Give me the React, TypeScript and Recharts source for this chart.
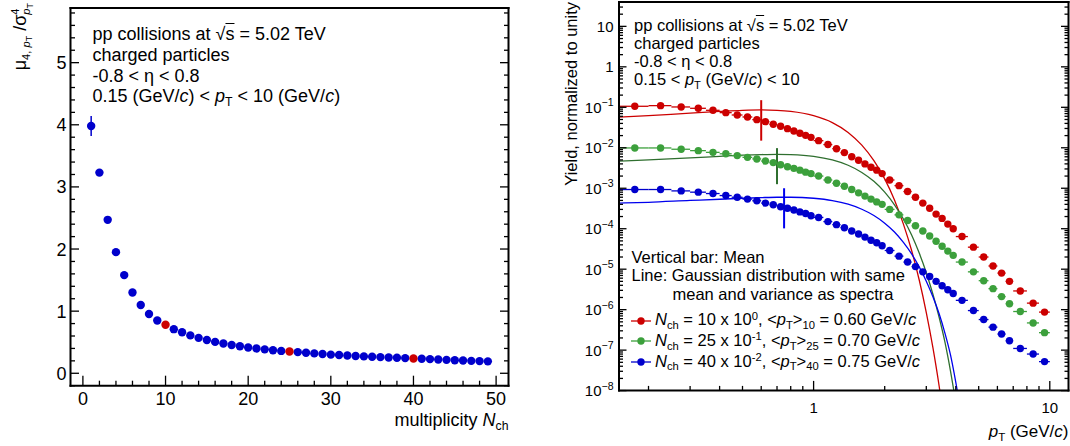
import React from "react";
import {
  ComposedChart,
  Scatter,
  Line,
  XAxis,
  YAxis,
  ErrorBar,
  ReferenceLine,
  Legend,
} from "recharts";

const FONT = '"Liberation Sans", Arial, Helvetica, sans-serif';
const RED = "#cc0000";
const GREEN = "#3ca03c";
const GREEN_LINE = "#2f6f2f";
const BLUE = "#0000cc";
const BLUE_LINE = "#0000ee";

// ---- left panel: mu4 / sigma^4 of pT vs multiplicity
const nch = [
  1, 2, 3, 4, 5, 6, 7, 8, 9, 10, 11, 12, 13, 14, 15, 16, 17, 18, 19, 20, 21, 22, 23, 24, 25,
  26, 27, 28, 29, 30, 31, 32, 33, 34, 35, 36, 37, 38, 39, 40, 41, 42, 43, 44, 45, 46, 47, 48, 49,
];
const moment = [
  3.98, 3.23, 2.47, 1.95, 1.58, 1.3, 1.1, 0.955, 0.85, 0.78, 0.71, 0.66, 0.61, 0.57, 0.535,
  0.505, 0.48, 0.455, 0.435, 0.415, 0.4, 0.385, 0.37, 0.36, 0.35, 0.34, 0.33, 0.32, 0.31, 0.3,
  0.293, 0.286, 0.279, 0.272, 0.266, 0.26, 0.254, 0.249, 0.244, 0.238, 0.234, 0.228, 0.222,
  0.216, 0.21, 0.205, 0.2, 0.196, 0.192,
];
const momentErr = [
  0.16, 0.03, 0.02, 0.015, 0.012, 0.01, 0.01, 0.008, 0.008, 0.007, 0.007, 0.006, 0.006, 0.006,
  0.005, 0.005, 0.005, 0.005, 0.005, 0.004, 0.004, 0.004, 0.004, 0.004, 0.004, 0.004, 0.004,
  0.004, 0.004, 0.004, 0.004, 0.004, 0.004, 0.004, 0.004, 0.004, 0.004, 0.004, 0.004, 0.004,
  0.004, 0.004, 0.004, 0.004, 0.004, 0.004, 0.004, 0.004, 0.004,
];
const highlighted = [10, 25, 40];

const nchMajor = [0, 10, 20, 30, 40, 50];
const nchMinor = [2, 4, 6, 8, 12, 14, 16, 18, 22, 24, 26, 28, 32, 34, 36, 38, 42, 44, 46, 48];
const momentMajor = [0, 1, 2, 3, 4, 5];

// ---- right panel: pT spectra
const ptCenters = [
  0.175, 0.225, 0.275, 0.325, 0.375, 0.425, 0.475, 0.525, 0.575, 0.625, 0.675, 0.725, 0.775,
  0.825, 0.875, 0.925, 0.975, 1.05, 1.15, 1.25, 1.35, 1.45, 1.55, 1.65, 1.75, 1.85, 1.95, 2.1,
  2.3, 2.5, 2.7, 2.9, 3.1, 3.3, 3.5, 3.7, 3.9, 4.25, 4.75, 5.25, 5.75, 6.25, 6.75, 7.5, 8.5, 9.5,
];
const ptHalf = [
  0.025, 0.025, 0.025, 0.025, 0.025, 0.025, 0.025, 0.025, 0.025, 0.025, 0.025, 0.025, 0.025,
  0.025, 0.025, 0.025, 0.025, 0.05, 0.05, 0.05, 0.05, 0.05, 0.05, 0.05, 0.05, 0.05, 0.05, 0.1,
  0.1, 0.1, 0.1, 0.1, 0.1, 0.1, 0.1, 0.1, 0.1, 0.25, 0.25, 0.25, 0.25, 0.25, 0.25, 0.5, 0.5, 0.5,
];
const yieldN10 = [
  0.106, 0.11, 0.102, 0.0945, 0.0843, 0.0738, 0.0646, 0.0577, 0.0496, 0.0442, 0.038, 0.034,
  0.0297, 0.026, 0.0228, 0.0203, 0.0181, 0.015, 0.012, 0.0095, 0.0076, 0.006, 0.0049, 0.004,
  0.0033, 0.0028, 0.0023, 0.0016, 0.00116, 0.00083, 0.0006, 0.00043, 0.00032, 0.00023, 0.00018,
  0.00013, 0.0001, 6.4e-5, 3.5e-5, 2.0e-5, 1.2e-5, 8e-6, 5e-6, 2.9e-6, 1.45e-6, 8.7e-7,
];
const yieldN25 = [
  0.0099, 0.0099, 0.0092, 0.0085, 0.0077, 0.0071, 0.0064, 0.0058, 0.0053, 0.0047, 0.0043,
  0.0038, 0.0034, 0.0031, 0.0028, 0.0025, 0.0023, 0.002, 0.0016, 0.00133, 0.00112, 0.00093,
  0.00077, 0.00064, 0.00054, 0.00046, 0.0004, 0.0003, 0.00022, 0.00016, 0.000118, 8.8e-5,
  6.6e-5, 4.9e-5, 3.7e-5, 2.8e-5, 2.2e-5, 1.5e-5, 8.6e-6, 5.2e-6, 3.3e-6, 2.1e-6, 1.4e-6, 9e-7,
  4.7e-7, 2.7e-7,
];
const yieldN40 = [
  9.3e-4, 9.3e-4, 8.6e-4, 8.0e-4, 7.4e-4, 6.6e-4, 6.0e-4, 5.4e-4, 4.9e-4, 4.3e-4, 3.9e-4,
  3.5e-4, 3.2e-4, 2.9e-4, 2.6e-4, 2.37e-4, 2.1e-4, 1.9e-4, 1.5e-4, 1.26e-4, 1.06e-4, 8.8e-5,
  7.4e-5, 6.2e-5, 5.2e-5, 4.5e-5, 3.8e-5, 2.9e-5, 2.1e-5, 1.5e-5, 1.16e-5, 8.6e-6, 6.6e-6,
  5.0e-6, 3.9e-6, 3.1e-6, 2.5e-6, 1.7e-6, 9.5e-7, 5.7e-7, 3.7e-7, 2.5e-7, 1.7e-7, 1.1e-7, 8e-8,
  5.2e-8,
];

// Gaussian curves with same mean and variance
const gaussPt = [
  0.15, 0.2, 0.3, 0.4, 0.5, 0.6, 0.7, 0.8, 1.0, 1.2, 1.4, 1.6, 1.8, 2.0, 2.2, 2.4, 2.6, 2.8, 3.0,
  3.2, 3.4, 3.6, 3.8, 4.0, 4.2,
];
const gaussN10 = [
  0.057, 0.062, 0.072, 0.079, 0.084, 0.086, 0.084, 0.079, 0.062, 0.042, 0.024, 0.0116, 0.0048,
  0.0017, 5.1e-4, 1.3e-4, 2.9e-5, 5.4e-6, 8.5e-7, 1.15e-7, 1.3e-8, 1.3e-9, null, null, null,
];
const gaussN25 = [
  4.7e-3, 5.0e-3, 5.6e-3, 6.15e-3, 6.56e-3, 6.8e-3, 6.9e-3, 6.8e-3, 6.15e-3, 5.0e-3, 3.7e-3,
  2.46e-3, 1.48e-3, 8.0e-4, 3.9e-4, 1.74e-4, 7.0e-5, 2.5e-5, 8.2e-6, 2.4e-6, 6.5e-7, 1.55e-7,
  3.0e-8, 5e-9, null,
];
const gaussN40 = [
  4.3e-4, 4.5e-4, 5.0e-4, 5.35e-4, 5.66e-4, 5.87e-4, 5.99e-4, 5.99e-4, 5.66e-4, 4.96e-4, 4.03e-4,
  3.03e-4, 2.12e-4, 1.37e-4, 8.3e-5, 4.6e-5, 2.38e-5, 1.14e-5, 5.06e-6, 2.08e-6, 7.9e-7, 2.6e-7,
  7.5e-8, 1.6e-8, 3e-9,
];

const spectraNch = [10, 25, 40];
const spectraScaleExp = ["0", "-1", "-2"];
const meanPt = [0.6, 0.7, 0.75];
const meanBarLow = [0.015, 0.00126, 1.02e-4];
const meanBarHigh = [0.15, 0.0098, 1.0e-3];

const ptMajor = [1, 10];
const ptMinor = [0.2, 0.3, 0.4, 0.5, 0.6, 0.7, 0.8, 0.9, 2, 3, 4, 5, 6, 7, 8, 9];
const yieldMajor = [1e-8, 1e-7, 1e-6, 1e-5, 1e-4, 1e-3, 1e-2, 1e-1, 1, 10];

// ---- helpers
const steps = (from: number, to: number, step: number) => {
  const out: number[] = [];
  for (let v = from; v <= to + 1e-9; v += step) out.push(Math.round(v * 1000) / 1000);
  return out;
};
const logMinors = (decades: number[], max: number) => {
  const out: number[] = [];
  decades.forEach((d) => [2, 3, 4, 5, 6, 7, 8, 9].forEach((m) => d * m <= max && out.push(d * m)));
  return out;
};
const isIn = (list: number[], v: number) =>
  list.some((m) => Math.abs(m - v) <= Math.abs(m) * 1e-6 + 1e-12);

type Side = "bottom" | "top" | "left" | "right";
type TickOpts = {
  side: Side;
  majors: number[];
  major: number;
  minor: number;
  label?: (v: number) => React.ReactNode;
  size?: number;
  gap?: number;
};

// ROOT style: ticks drawn inwards from the frame, labels outside
function frameTick(o: TickOpts) {
  return (props: any) => {
    const { x, y, payload } = props;
    const v = payload.value as number;
    const big = isIn(o.majors, v);
    const len = big ? o.major : o.minor;
    const d =
      o.side === "bottom" ? [0, -len] : o.side === "top" ? [0, len] : o.side === "left" ? [len, 0] : [-len, 0];
    const fs = o.size ?? 18;
    const gap = o.gap ?? 6;
    let txt: React.ReactNode = null;
    if (big && o.label) {
      if (o.side === "bottom") {
        txt = (
          <text x={x} y={y + gap + fs * 0.72} textAnchor="middle" fontSize={fs} fontFamily={FONT} fill="#000">
            {o.label(v)}
          </text>
        );
      } else if (o.side === "left") {
        txt = (
          <text x={x - gap} y={y + fs * 0.36} textAnchor="end" fontSize={fs} fontFamily={FONT} fill="#000">
            {o.label(v)}
          </text>
        );
      }
    }
    return (
      <g>
        <line x1={x} y1={y} x2={x + d[0]} y2={y + d[1]} stroke="#000" strokeWidth={1.3} />
        {txt}
      </g>
    );
  };
}

const frameLine = { stroke: "#000", strokeWidth: 2, strokeLinecap: "square" as const };
// axes are 1px thick (0 would not render); ticks sit on the frame edge
const axisBase = {
  type: "number" as const,
  allowDataOverflow: true,
  interval: 0 as const,
  tickLine: false,
  tickSize: 0,
  tickMargin: 0,
  axisLine: frameLine,
};

const Sub = ({ children, s = 0.68 }: { children: React.ReactNode; s?: number }) => (
  <span style={{ fontSize: `${s}em`, position: "relative", top: "0.32em" }}>{children}</span>
);
const Sup = ({ children, s = 0.68 }: { children: React.ReactNode; s?: number }) => (
  <span style={{ fontSize: `${s}em`, position: "relative", top: "-0.5em" }}>{children}</span>
);
const PT = () => (
  <span>
    <i>p</i>
    <Sub>T</Sub>
  </span>
);
const SqrtS = () => (
  <span>
    √<span style={{ textDecoration: "overline" }}>s</span>
  </span>
);

const abs = (left: number, top: number, extra: React.CSSProperties = {}): React.CSSProperties => ({
  position: "absolute",
  left,
  top,
  whiteSpace: "nowrap",
  fontFamily: FONT,
  color: "#000",
  ...extra,
});

// rotated title, right end anchored at (left, top), reading bottom to top
const vTitle = (left: number, top: number, fontSize: number): React.CSSProperties =>
  abs(left, top, {
    fontSize,
    lineHeight: 1.15,
    transformOrigin: "0 0",
    transform: "rotate(-90deg) translateX(-100%)",
  });

function MomentPanel() {
  const pts = nch.map((n, i) => ({ x: n, y: moment[i], ey: momentErr[i] }));
  const blue = pts.filter((p) => !highlighted.includes(p.x));
  const red = pts.filter((p) => highlighted.includes(p.x));
  const xTicks = [...nchMajor, ...nchMinor].sort((a, b) => a - b);
  const yTicks = steps(-0.2, 5.8, 0.2);
  const xDom: [number, number] = [-1.5, 51.5];
  const yDom: [number, number] = [-0.2, 5.88];
  const dot = (c: string) => (p: any) => <circle cx={p.cx} cy={p.cy} r={4.2} fill={c} />;
  const lineStyle = { fontSize: 18, lineHeight: "20.8px", height: 20.8 };
  return (
    <div style={{ position: "absolute", left: 0, top: 0, width: 530, height: 446 }}>
      <ComposedChart width={530} height={446} margin={{ top: 7, right: 20.5, bottom: 59.3, left: 69.5 }}>
        <XAxis
          {...axisBase}
          xAxisId="b"
          dataKey="x"
          domain={xDom}
          ticks={xTicks}
          height={1}
          tick={frameTick({ side: "bottom", majors: nchMajor, major: 10, minor: 5, label: (v) => v, gap: 6 })}
        />
        <XAxis
          {...axisBase}
          xAxisId="t"
          orientation="top"
          domain={xDom}
          ticks={xTicks}
          height={1}
          tick={frameTick({ side: "top", majors: nchMajor, major: 10, minor: 5 })}
        />
        <YAxis
          {...axisBase}
          yAxisId="l"
          dataKey="y"
          domain={yDom}
          ticks={yTicks}
          width={1}
          tick={frameTick({ side: "left", majors: momentMajor, major: 8.5, minor: 4.5, label: (v) => v, gap: 4 })}
        />
        <YAxis
          {...axisBase}
          yAxisId="r"
          orientation="right"
          domain={yDom}
          ticks={yTicks}
          width={1}
          tick={frameTick({ side: "right", majors: momentMajor, major: 8.5, minor: 4.5 })}
        />
        <Scatter xAxisId="b" yAxisId="l" data={blue} shape={dot(BLUE)} isAnimationActive={false}>
          <ErrorBar dataKey="ey" direction="y" width={0} stroke={BLUE} strokeWidth={1.5} />
        </Scatter>
        <Scatter xAxisId="b" yAxisId="l" data={red} shape={dot(RED)} isAnimationActive={false} />
      </ComposedChart>

      <div style={abs(92.5, 24, {})}>
        <div style={lineStyle}>
          pp collisions at <SqrtS /> = 5.02 TeV
        </div>
        <div style={lineStyle}>charged particles</div>
        <div style={lineStyle}>-0.8 &lt; η &lt; 0.8</div>
        <div style={lineStyle}>
          0.15 (GeV/<i>c</i>) &lt; <PT /> &lt; 10 (GeV/<i>c</i>)
        </div>
      </div>

      <div style={abs(508.5, 410, { fontSize: 18, transform: "translateX(-100%)" })}>
        multiplicity <i>N</i>
        <Sub>ch</Sub>
      </div>

      <div style={vTitle(10, 3, 18)}>
        μ
        <Sub s={0.62}>
          4, <i>p</i>
          <Sub s={0.8}>T</Sub>
        </Sub>
        {" "}/σ
        <span
          style={{
            display: "inline-flex",
            flexDirection: "column",
            fontSize: "0.62em",
            lineHeight: 1,
            verticalAlign: "0.6em",
          }}
        >
          <span>4</span>
          <span>
            <i>p</i>
            <Sub s={0.8}>T</Sub>
          </span>
        </span>
      </div>
    </div>
  );
}

function SpectraLegend() {
  const colors = [RED, GREEN, BLUE];
  return (
    <div style={{ fontFamily: FONT, fontSize: 16.5, whiteSpace: "nowrap", color: "#000" }}>
      {spectraNch.map((n, i) => (
        <div key={n} style={{ display: "flex", alignItems: "center", height: 20.8, lineHeight: "20.8px" }}>
          <svg width={21} height={12} style={{ overflow: "visible" }}>
            <line x1={0} y1={6} x2={20} y2={6} stroke={colors[i]} strokeWidth={1.3} />
            <circle cx={10} cy={6} r={3.7} fill={colors[i]} />
          </svg>
          <span style={{ marginLeft: 3 }}>
            <i>N</i>
            <Sub>ch</Sub> = {n} x 10<Sup>{spectraScaleExp[i]}</Sup>, &lt;<PT />&gt;<Sub>{n}</Sub> ={" "}
            {meanPt[i].toFixed(2)} GeV/<i>c</i>
          </span>
        </div>
      ))}
    </div>
  );
}

function SpectraPanel() {
  const mk = (ys: number[]) => ptCenters.map((x, i) => ({ x, y: ys[i], ex: ptHalf[i] }));
  const curve = (ys: (number | null)[]) => gaussPt.map((x, i) => ({ x, y: ys[i] }));
  const series = [
    { name: "N10", pts: mk(yieldN10), g: curve(gaussN10), c: RED, lc: RED },
    { name: "N25", pts: mk(yieldN25), g: curve(gaussN25), c: GREEN, lc: GREEN_LINE },
    { name: "N40", pts: mk(yieldN40), g: curve(gaussN40), c: BLUE, lc: BLUE_LINE },
  ];
  const xDom: [number, number] = [0.15, 12];
  const yDom: [number, number] = [1e-8, 40];
  const xTicks = [...ptMinor, ...ptMajor].sort((a, b) => a - b);
  const yTicks = [...yieldMajor, ...logMinors(yieldMajor, 40)].sort((a, b) => a - b);
  const yLabel = (v: number) => {
    if (v >= 10) return "10";
    if (v === 1) return "1";
    const e = Math.round(Math.log10(v));
    return (
      <>
        <tspan>10</tspan>
        <tspan dy={-6.5} fontSize={10.5}>
          {`\u2212${-e}`}
        </tspan>
      </>
    );
  };
  const lineStyle = { fontSize: 16.5, lineHeight: "18.3px", height: 18.3 };
  return (
    <div style={{ position: "absolute", left: 540, top: 0, width: 530, height: 446 }}>
      <ComposedChart width={530} height={446} margin={{ top: 1, right: 0.5, bottom: 54.4, left: 78 }}>
        <XAxis
          {...axisBase}
          xAxisId="b"
          dataKey="x"
          scale="log"
          domain={xDom}
          ticks={xTicks}
          height={1}
          tick={frameTick({ side: "bottom", majors: ptMajor, major: 9.7, minor: 4.7, label: (v) => v, size: 15, gap: 12 })}
        />
        <XAxis
          {...axisBase}
          xAxisId="t"
          orientation="top"
          scale="log"
          domain={xDom}
          ticks={xTicks}
          height={1}
          tick={frameTick({ side: "top", majors: ptMajor, major: 9.7, minor: 4.7 })}
        />
        <YAxis
          {...axisBase}
          yAxisId="l"
          dataKey="y"
          scale="log"
          domain={yDom}
          ticks={yTicks}
          width={1}
          tick={frameTick({ side: "left", majors: yieldMajor, major: 7.5, minor: 4, label: yLabel, size: 15, gap: 5.5 })}
        />
        <YAxis
          {...axisBase}
          yAxisId="r"
          orientation="right"
          scale="log"
          domain={yDom}
          ticks={yTicks}
          width={1}
          tick={frameTick({ side: "right", majors: yieldMajor, major: 7.5, minor: 4 })}
        />
        {series.map((s) => (
          <Line
            key={`g${s.name}`}
            xAxisId="b"
            yAxisId="l"
            data={s.g}
            dataKey="y"
            type="monotone"
            stroke={s.lc}
            strokeWidth={1.3}
            dot={false}
            activeDot={false}
            connectNulls={false}
            isAnimationActive={false}
            legendType="none"
          />
        ))}
        {series.map((s, i) => (
          <ReferenceLine
            key={`m${s.name}`}
            xAxisId="b"
            yAxisId="l"
            segment={[
              { x: meanPt[i], y: meanBarLow[i] },
              { x: meanPt[i], y: meanBarHigh[i] },
            ]}
            stroke={s.lc}
            strokeWidth={2}
          />
        ))}
        {series.map((s) => (
          <Scatter
            key={s.name}
            name={s.name}
            xAxisId="b"
            yAxisId="l"
            data={s.pts}
            shape={(p: any) => <circle cx={p.cx} cy={p.cy} r={3.7} fill={s.c} />}
            isAnimationActive={false}
          >
            <ErrorBar dataKey="ex" direction="x" width={0} stroke={s.c} strokeWidth={1.3} />
          </Scatter>
        ))}
        <Legend
          layout="horizontal"
          verticalAlign="middle"
          align="center"
          wrapperStyle={{ left: 91, top: 310.3, width: 420, height: 64 }}
          content={() => <SpectraLegend />}
        />
      </ComposedChart>

      <div style={abs(94, 15.5, {})}>
        <div style={lineStyle}>
          pp collisions at <SqrtS /> = 5.02 TeV
        </div>
        <div style={lineStyle}>charged particles</div>
        <div style={lineStyle}>-0.8 &lt; η &lt; 0.8</div>
        <div style={lineStyle}>
          0.15 &lt; <PT /> (GeV/<i>c</i>) &lt; 10
        </div>
      </div>

      <div style={abs(91.5, 248, { fontSize: 16.5, lineHeight: "18.3px" })}>
        <div>Vertical bar: Mean</div>
        <div>Line: Gaussian distribution with same</div>
        <div style={{ paddingLeft: 41 }}>mean and variance as spectra</div>
      </div>

      <div style={abs(528.5, 422, { fontSize: 17, transform: "translateX(-100%)" })}>
        <PT /> (GeV/<i>c</i>)
      </div>

      <div style={vTitle(22, 2, 16.5)}>Yield, normalized to unity</div>
    </div>
  );
}

export default function App() {
  return (
    <div style={{ position: "absolute", left: 0, top: 0, width: 1070, height: 446, background: "#fff" }}>
      <MomentPanel />
      <SpectraPanel />
    </div>
  );
}
